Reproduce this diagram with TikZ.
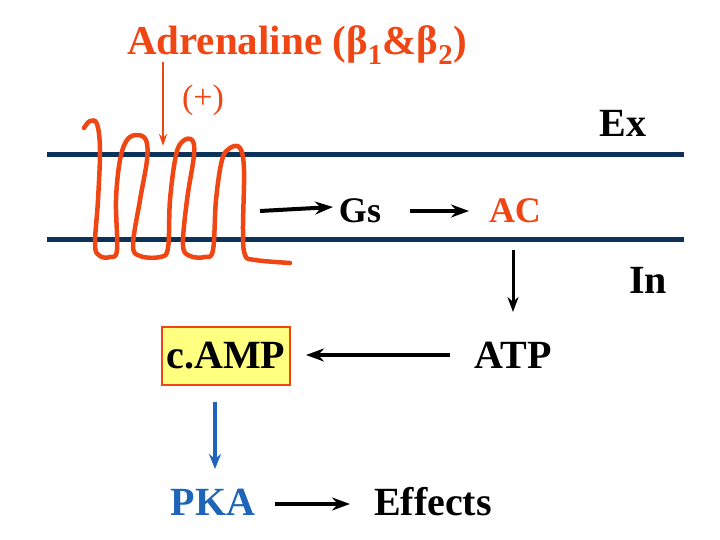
\documentclass[tikz,border=0pt]{standalone}
\usepackage{fontspec}
\setmainfont{Liberation Serif}
\usetikzlibrary{arrows.meta}
\definecolor{mem}{RGB}{12,50,90}
\definecolor{rec}{RGB}{240,70,20}
\definecolor{pk}{RGB}{30,100,185}
\definecolor{bx}{RGB}{255,255,128}
\tikzset{lbl/.style={font=\bfseries\fontsize{40}{44}\selectfont,inner sep=0},
 mid/.style={font=\bfseries\fontsize{36}{40}\selectfont,inner sep=0},
 thk/.style={line width=4pt,-{Stealth[length=18pt,width=13pt]}},
 thn/.style={line width=3pt,-{Stealth[length=15pt,width=11pt]}}}
\begin{document}
\begin{tikzpicture}[x=1pt,y=-1pt]
\useasboundingbox (0,0) rectangle (720,540);
\draw[mem,line width=5pt] (47,155) -- (684,155) (47,239) -- (684,239);
\draw[rec,line width=4.5pt,line join=round,line cap=round] plot[smooth,tension=0.6] coordinates {
(84,128)(90,121)(97,124)(100,150)(98,200)(95,245)(100,256)(110,257)(117,250)(116,200)(120,160)(127,140)(137,135)(146,140)(147,160)(140,200)(133,245)(140,256)(160,257)(168,248)(170,200)(176,155)(183,141)(192,140)(194,155)(187,200)(183,245)(190,256)(205,257)(213,250)(216,200)(222,160)(230,148)(240,148)(244,170)(243,230)(245,255)(255,260)(290,263)};
\node[rec,inner sep=0,font=\bfseries\fontsize{41}{44}\selectfont] (adr) at (297,45) {Adrenaline (β\textsubscript{1}\&β\textsubscript{2})};
\node[rec,inner sep=0,font=\fontsize{34}{38}\selectfont] (plus) at (203,100) {(+)};
\coordinate (a0) at (163,62); \coordinate (a1) at (163,146);
\draw[rec,line width=2pt,-{Stealth[length=12pt,width=8pt]}] (a0) -- (a1);
\node[lbl] (ex) at (623,123) {Ex};
\node[lbl] (in) at (648,280) {In};
\coordinate (r) at (260,211);
\node[mid] (gs) at (360,211) {Gs};
\node[mid,rec] (ac) at (515,211) {AC};
\draw[thk] (r) -- (333,207);
\draw[thk] (410,211) -- (469,211);
\node[lbl] (atp) at (513,355) {ATP};
\draw[thn] (513,250) -- (513,312);
\node[lbl,draw=rec,fill=bx,line width=1.2pt,minimum width=128pt,minimum height=58pt] (camp) at (226,356) {c.AMP};
\draw[thk] (450,355) -- (306,355);
\draw[pk,line width=3.5pt,-{Stealth[length=15pt,width=12pt]}] (215,402) -- (215,469);
\node[lbl,pk] (pka) at (213,502) {PKA};
\node[lbl] (eff) at (433,502) {Effects};
\draw[thk] (275,504) -- (350,504);
\end{tikzpicture}
\end{document}
